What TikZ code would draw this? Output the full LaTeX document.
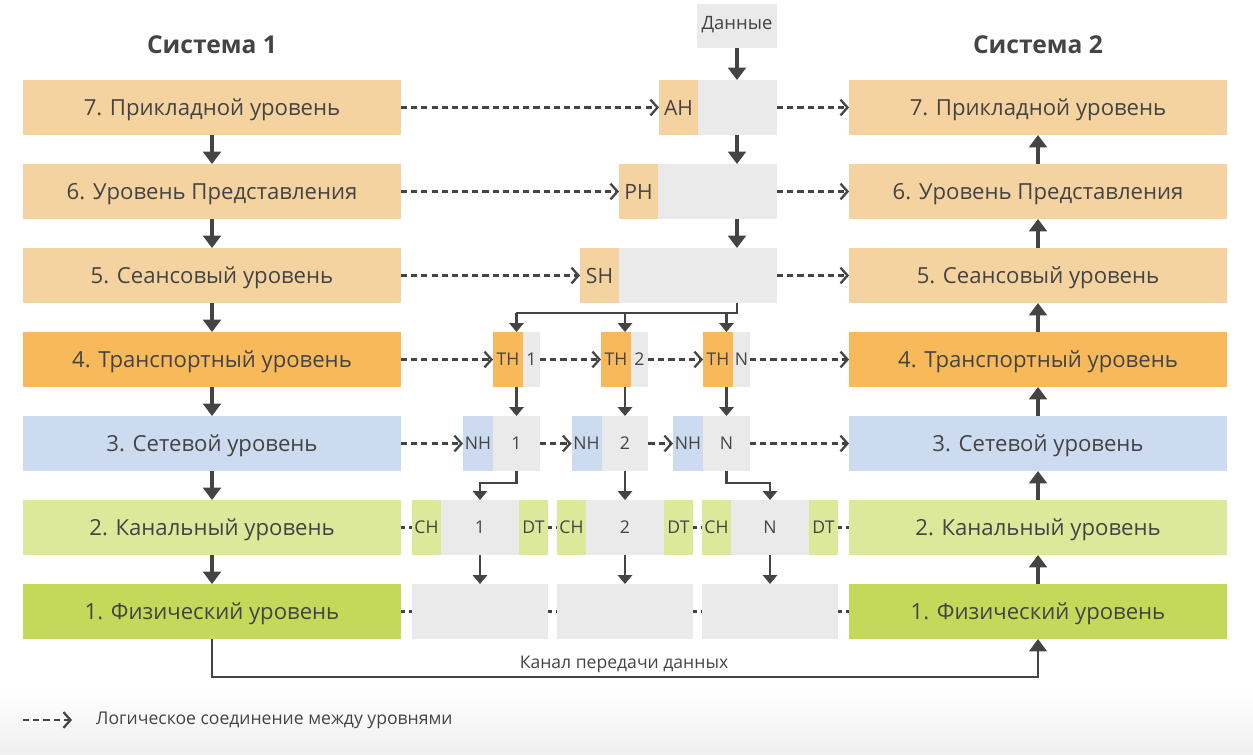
\documentclass[tikz,border=0pt]{standalone}
\usepackage{fontspec}
\setmainfont{Open Sans}
\usetikzlibrary{arrows.meta}
\usetikzlibrary{calc,positioning}
\definecolor{uppercol}{HTML}{F5D3A0}
\definecolor{transcol}{HTML}{F8B95A}
\definecolor{netcol}{HTML}{CCDBEF}
\definecolor{linkcol}{HTML}{DCE89A}
\definecolor{physcol}{HTML}{C4D95A}
\definecolor{datacol}{HTML}{EAEAEA}
\definecolor{ink}{HTML}{444444}
\tikzset{
  layer/.style={minimum width=7.56cm,minimum height=1.1cm,inner sep=0,outer sep=0,
                text=ink,text depth=0pt,font=\fontsize{12.6}{15}\selectfont},
  seg/.style={minimum height=1.1cm,inner sep=0,outer sep=0,anchor=west,text=ink,text depth=0pt},
  hdr/.style={seg,font=\fontsize{12}{14}\selectfont},
  flow/.style={ink,line width=1.8pt,-{Triangle[length=7pt,width=10pt]}},
  split/.style={ink,line width=1.2pt,-{Triangle[length=5pt,width=8pt]}},
  logic/.style={ink,line width=1.3pt,dash pattern=on 3.5pt off 2.3pt,
                -{Straight Barb[length=4pt,width=9pt]}},
  gap/.style={ink,line width=1.3pt,dash pattern=on 2.5pt off 2pt},
}

\begin{document}
\begin{tikzpicture}[x=0.02cm,y=-0.02cm]
  \def\xl{212}                  % centre of system 1
  \def\xr{1038}                 % centre of system 2
  \def\ytop{107.5}              % centre of layer 7
  \def\dy{84}                   % layer pitch
  \useasboundingbox (0,0) rectangle (1253,754);
  \shade[top color=white,bottom color=black!6] (0,690) rectangle (1253,754);

  % SYSTEMS
  \node[text=ink,font=\bfseries\fontsize{14}{16}\selectfont] (sys1) at (\xl,45) {Система 1};
  \node[text=ink,font=\bfseries\fontsize{14}{16}\selectfont] (sys2) at (\xr,45) {Система 2};
  \foreach \n/\txt/\col in {7/{7. Прикладной уровень}/uppercol,
                            6/{6. Уровень Представления}/uppercol,
                            5/{5. Сеансовый уровень}/uppercol,
                            4/{4. Транспортный уровень}/transcol,
                            3/{3. Сетевой уровень}/netcol,
                            2/{2. Канальный уровень}/linkcol,
                            1/{1. Физический уровень}/physcol}{
    \node[layer,fill=\col] (L\n) at (\xl,{\ytop+(7-\n)*\dy}) {\txt};
    \node[layer,fill=\col] (R\n) at (\xr,{\ytop+(7-\n)*\dy}) {\txt};
  }
  \foreach \n [evaluate=\n as \m using int(\n-1)] in {7,...,2}{
    \draw[flow] (L\n) -- (L\m);
    \draw[flow] (R\m) -- (R\n);
  }

  % UPPER LAYERS
  \node[seg,fill=datacol,minimum width=1.6cm,minimum height=0.88cm,anchor=center,
        text depth=4pt,font=\fontsize{10.5}{12}\selectfont] (dat) at (737,26) {Данные};
  \node[hdr,fill=uppercol,minimum width=0.78cm] (AH) at (659,\ytop) {AH};
  \node[seg,fill=datacol,minimum width=1.58cm,right=0pt of AH] (AHd) {};
  \node[hdr,fill=uppercol,minimum width=0.78cm] (PH) at (619,\ytop+\dy) {PH};
  \node[seg,fill=datacol,minimum width=2.38cm,right=0pt of PH] (PHd) {};
  \node[hdr,fill=uppercol,minimum width=0.78cm] (SH) at (580,\ytop+2*\dy) {SH};
  \node[seg,fill=datacol,minimum width=3.16cm,right=0pt of SH] (SHd) {};
  \coordinate (col) at (737,0);

  % SEGMENTS AND PACKETS
  \foreach \i/\xt/\xn in {1/493/463,2/601/571.5,N/703/673}{
    \node[seg,fill=transcol,minimum width=0.6cm] (TH\i) at (\xt,\ytop+3*\dy) {TH};
    \node[seg,fill=datacol,minimum width=0.34cm,right=0pt of TH\i] (T\i) {\i};
    \node[seg,fill=netcol,minimum width=0.6cm] (NH\i) at (\xn,\ytop+4*\dy) {NH};
    \node[seg,fill=datacol,minimum width=0.94cm,right=0pt of NH\i] (N\i) {\i};
  }
  \foreach \i/\x in {1/412,2/557,N/702}{
    \node[seg,fill=linkcol,minimum width=0.58cm] (CH\i) at (\x,\ytop+5*\dy) {CH};
    \node[seg,fill=datacol,minimum width=1.56cm,right=0pt of CH\i] (D\i) {\i};
    \node[seg,fill=linkcol,minimum width=0.58cm,right=0pt of D\i] (DT\i) {DT};
    \node[seg,fill=datacol,minimum width=2.72cm] (P\i) at (\x,\ytop+6*\dy) {};
  }

  % DATA FLOW
  \draw[flow] (dat) -- (dat |- AHd.north);
  \draw[flow] (col |- AHd.south) -- (col |- PHd.north);
  \draw[flow] (col |- PHd.south) -- (col |- SHd.north);
  \coordinate (fork) at ($(col |- SHd.south)+(0,10)$);
  \draw[ink,line width=1.2pt] (col |- SHd.south) -- (fork) -- (fork -| N1.north);
  \foreach \i in {1,2,N}{
    \draw[split] (fork -| N\i.north) -- (N\i.north |- TH\i.north);
    \draw[split] (N\i.north |- TH\i.south) -- (N\i.north);
    \draw[split] (N\i.south) -- ++(0,12) -| (D\i.north);
    \draw[split] (D\i.south) -- (D\i.south |- P\i.north);
  }
  \draw[flow,line width=1.3pt] (L1.south) -- ++(0,38) -| (R1.south);
  \node[text=ink] (chan) at (624,664) {Канал передачи данных};

  % LOGICAL LINKS
  \draw[logic] (L7) -- (AH);
  \draw[logic] (AHd) -- (R7);
  \draw[logic] (L6) -- (PH);
  \draw[logic] (PHd) -- (R6);
  \draw[logic] (L5) -- (SH);
  \draw[logic] (SHd) -- (R5);
  \draw[logic] (L4) -- (TH1);
  \draw[logic] (T1) -- (TH2);
  \draw[logic] (T2) -- (THN);
  \draw[logic] (TN) -- (R4);
  \draw[logic] (L3) -- (NH1);
  \draw[logic] (N1) -- (NH2);
  \draw[logic] (N2) -- (NHN);
  \draw[logic] (NN) -- (R3);
  \draw[gap] (L2) -- (CH1);
  \draw[gap] (DT1) -- (CH2);
  \draw[gap] (DT2) -- (CHN);
  \draw[gap] (DTN) -- (R2);
  \draw[gap] (L1) -- (P1);
  \draw[gap] (P1) -- (P2);
  \draw[gap] (P2) -- (PN);
  \draw[gap] (PN) -- (R1);

  % LEGEND
  \coordinate (lgA) at (23,720);
  \coordinate (lgB) at (72,720);
  \draw[logic] (lgA) -- (lgB);
  \node[text=ink,anchor=west] (legtxt) at (90,720) {Логическое соединение между уровнями};
\end{tikzpicture}
\end{document}
